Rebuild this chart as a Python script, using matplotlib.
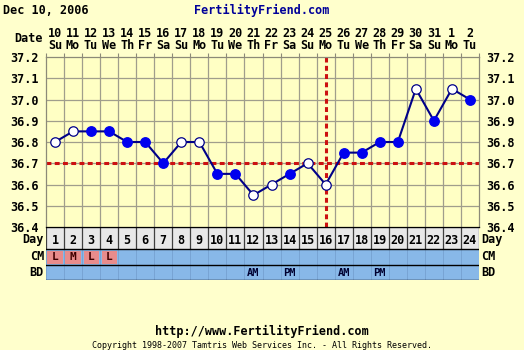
import numpy as np
import matplotlib
matplotlib.use('Agg')
import matplotlib.pyplot as plt
from matplotlib.patches import Rectangle

# chart data
days = list(range(1, 25))
dates = ['10', '11', '12', '13', '14', '15', '16', '17', '18', '19', '20', '21',
         '22', '23', '24', '25', '26', '27', '28', '29', '30', '31', '1', '2']
weekdays = ['Su', 'Mo', 'Tu', 'We', 'Th', 'Fr', 'Sa'] * 3 + ['Su', 'Mo', 'Tu']
temps = [36.80, 36.85, 36.85, 36.85, 36.80, 36.80, 36.70, 36.80, 36.80, 36.65, 36.65, 36.55,
         36.60, 36.65, 36.70, 36.60, 36.75, 36.75, 36.80, 36.80, 37.05, 36.90, 37.05, 37.00]
is_open = [1, 1, 0, 0, 0, 0, 0, 1, 1, 0, 0, 1,
           1, 0, 1, 1, 0, 0, 0, 0, 1, 0, 1, 0]
coverline = 36.7
ovulation_day = 16
cm_days = [1, 2, 3, 4]
cm_vals = ['L', 'M', 'L', 'L']
bd_days = [12, 14, 17, 19]
bd_vals = ['AM', 'PM', 'AM', 'PM']
y_ticks = [36.4, 36.5, 36.6, 36.7, 36.8, 36.9, 37.0, 37.1, 37.2]

W, H = 524, 350
BG = '#ffffcc'
font = 'DejaVu Sans Mono'

fig = plt.figure(figsize=(W / 100, H / 100), dpi=100, facecolor=BG)

def px(x0, y0, x1, y1):
    # pixel box (top-left origin) -> figure fraction
    return [x0 / W, 1 - y1 / H, (x1 - x0) / W, (y1 - y0) / H]

L, R, T, B = 46, 479, 57, 227
ax = fig.add_axes(px(L, T, R, B))
ax.set_facecolor('#ffffc4')
ax.set_xlim(0.5, 24.5)
ax.set_ylim(36.4, 37.2)

for x in np.arange(1.5, 24.5, 1):
    ax.axvline(x, color='#a09e8c', lw=0.9, zorder=1)
for y in y_ticks[1:-1]:
    ax.axhline(y, color='#a09e8c', lw=0.9, zorder=1)
for s in ax.spines.values():
    s.set_color('#8c8a78')
    s.set_linewidth(0.9)
ax.spines['bottom'].set_color('black')

ax.set_xticks(np.arange(0.5, 25, 1))
ax.set_xticklabels([])
ax.tick_params(axis='x', which='both', bottom=False, top=True, direction='out',
               length=3, color='#8c8a78', labeltop=False, labelbottom=False)
ax.set_yticks(y_ticks)
ax.set_yticklabels(['%.1f' % v for v in y_ticks])
ax.tick_params(axis='y', left=False, right=False, labelleft=True, labelright=True, pad=2)
for lab in ax.get_yticklabels():
    lab.set_fontfamily(font)
    lab.set_fontweight('bold')
    lab.set_fontsize(8.5)

ax.axhline(coverline, color='#cc1111', lw=2.2, ls=(0, (1.6, 1.1)), zorder=2)
ax.axvline(ovulation_day, color='#cc1111', lw=2.2, ls=(0, (1.6, 1.1)), zorder=2,
           clip_on=False, ymax=1.02)

ax.plot(days, temps, color='#000088', lw=1.5, zorder=3)
op = [i for i in range(24) if is_open[i]]
fl = [i for i in range(24) if not is_open[i]]
ax.plot([days[i] for i in fl], [temps[i] for i in fl], 'o', ms=6.8,
        mfc='#0000ee', mec='#0000ee', zorder=4)
ax.plot([days[i] for i in op], [temps[i] for i in op], 'o', ms=6.8,
        mfc='white', mec='#000088', mew=0.9, zorder=4)

# date labels
for d, dt, wd in zip(days, dates, weekdays):
    ax.text(d, 37.2 + 0.8 * 24 / 170, dt, ha='center', va='center', fontfamily=font,
            fontweight='bold', fontsize=8.5, clip_on=False)
    ax.text(d, 37.2 + 0.8 * 12 / 170, wd, ha='center', va='center', fontfamily=font,
            fontweight='bold', fontsize=8.5, clip_on=False)
fig.text(43 / W, 1 - 38 / H, 'Date', ha='right', va='center', fontfamily=font,
         fontweight='bold', fontsize=8.5)

# bottom table
tb = fig.add_axes(px(L, B, R, 280))
tb.set_xlim(0.5, 24.5)
tb.set_ylim(280, B)
tb.axis('off')
tb.add_patch(Rectangle((0.5, B), 24, 22, fc='#e8e8e8', ec='none'))
tb.add_patch(Rectangle((0.5, 249), 24, 31, fc='#88b8e8', ec='none'))
for x in np.arange(0.5, 25, 1):
    tb.plot([x, x], [B, 249], color='#404040', lw=0.9)
    tb.plot([x, x], [249, 280], color='#78a4d4', lw=0.7)
for y in [B, 249, 264.5, 280]:
    tb.plot([0.5, 24.5], [y, y], color='black', lw=1.0)
for d in days:
    tb.text(d, 240, str(d), ha='center', va='center', fontfamily=font,
            fontweight='bold', fontsize=8.5)
for d, v in zip(cm_days, cm_vals):
    tb.add_patch(Rectangle((d - 0.42, 250.5), 0.84, 13, fc='#e88c8c', ec='none'))
    tb.text(d, 257, v, ha='center', va='center', fontfamily=font,
            fontweight='bold', fontsize=8, color='#400000')
for d, v in zip(bd_days, bd_vals):
    tb.text(d, 272.5, v, ha='center', va='center', fontfamily=font,
            fontweight='bold', fontsize=7.5, color='#000030')
for name, y in [('Day', 240), ('CM', 257), ('BD', 272.5)]:
    fig.text(44 / W, 1 - y / H, name, ha='right', va='center', fontfamily=font,
             fontweight='bold', fontsize=8.5)
    fig.text(481 / W, 1 - y / H, name, ha='left', va='center', fontfamily=font,
             fontweight='bold', fontsize=8.5)

# header and footer
fig.text(3 / W, 1 - 10 / H, 'Dec 10, 2006', ha='left', va='center', fontfamily=font,
         fontweight='bold', fontsize=8.5)
fig.text(262 / W, 1 - 10 / H, 'FertilityFriend.com', ha='center', va='center',
         fontfamily=font, fontweight='bold', fontsize=8.5, color='#000099')
fig.text(262 / W, 1 - 331 / H, 'http://www.FertilityFriend.com', ha='center',
         va='center', fontfamily=font, fontweight='bold', fontsize=8.5)
fig.text(262 / W, 1 - 345 / H,
         'Copyright 1998-2007 Tamtris Web Services Inc. - All Rights Reserved.',
         ha='center', va='center', fontfamily=font, fontsize=6)

fig.savefig('out.png', dpi=100, facecolor=BG)
